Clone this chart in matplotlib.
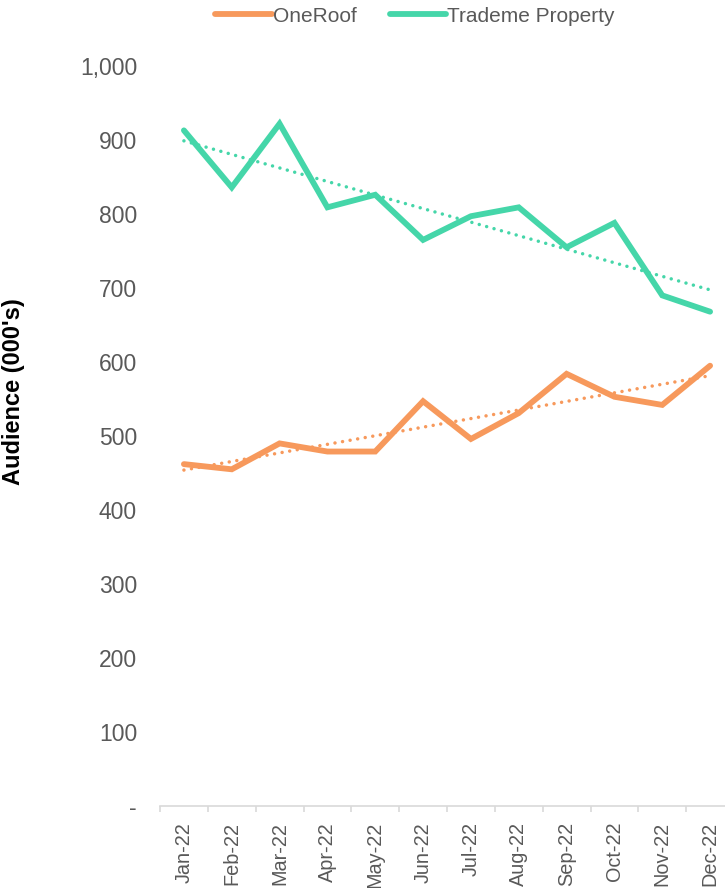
import matplotlib
matplotlib.use("Agg")
import matplotlib.pyplot as plt
from matplotlib.ticker import FuncFormatter
import numpy as np

plt.rcParams['font.family'] = ['Liberation Sans', 'DejaVu Sans']

months = ['Jan-22', 'Feb-22', 'Mar-22', 'Apr-22', 'May-22', 'Jun-22',
          'Jul-22', 'Aug-22', 'Sep-22', 'Oct-22', 'Nov-22', 'Dec-22']
oneroof = [462, 455, 490, 479, 479, 547, 496, 531, 584, 553, 542, 595]
trademe = [913, 836, 922, 809, 826, 765, 797, 809, 755, 788, 690, 668]

ORANGE = '#F7995C'
GREEN = '#45D6A9'
GREY = '#595959'

fig = plt.figure(figsize=(7.25, 8.88), dpi=100)
ax = fig.add_axes([160 / 725, 82 / 888, 574 / 725, 740 / 888])

x = np.arange(len(months))
for vals, col, name in [(oneroof, ORANGE, 'OneRoof'), (trademe, GREEN, 'Trademe Property')]:
  ax.plot(x, vals, color=col, lw=4.2, solid_capstyle='round',
          solid_joinstyle='miter', label=name, zorder=3)
  # linear trendline, like excel does it
  k, b = np.polyfit(x, vals, 1)
  ax.plot(x, k * x + b, color=col, lw=2.5, dashes=(0.01, 2.2),
          dash_capstyle='round', zorder=2)

ax.set_xlim(-0.5, len(months) - 0.5)
ax.set_ylim(0, 1000)
ax.set_yticks(range(0, 1001, 100))
ax.yaxis.set_major_formatter(FuncFormatter(lambda v, p: '-' if v == 0 else f'{v:,.0f}'))
ax.tick_params(axis='y', length=0, pad=16.5, labelsize=16.5, labelcolor=GREY)

ax.set_xticks(x)
ax.set_xticklabels(months, rotation=90, va='top', ha='center')
ax.set_xticks(np.arange(-0.5, len(months)), minor=True)
ax.tick_params(axis='x', which='major', length=0, pad=11.5, labelsize=14.3, labelcolor=GREY)
ax.tick_params(axis='x', which='minor', length=4, width=1.2, color='#D9D9D9')

for s in ['left', 'right', 'top']:
  ax.spines[s].set_visible(False)
ax.spines['bottom'].set_color('#D9D9D9')
ax.spines['bottom'].set_linewidth(1.2)

ax.set_ylabel("Audience (000's)", fontsize=17, fontweight='bold', color='black')
ax.yaxis.set_label_coords((25 - 160) / 574, (806 - 392) / 740)

fig.legend(loc='center', bbox_to_anchor=(415 / 725, 1 - 16 / 888), ncol=2,
           frameon=False, fontsize=15, handlelength=2.7, handletextpad=0.05,
           columnspacing=1.6, labelcolor=GREY)

fig.savefig('out.png', dpi=100)
